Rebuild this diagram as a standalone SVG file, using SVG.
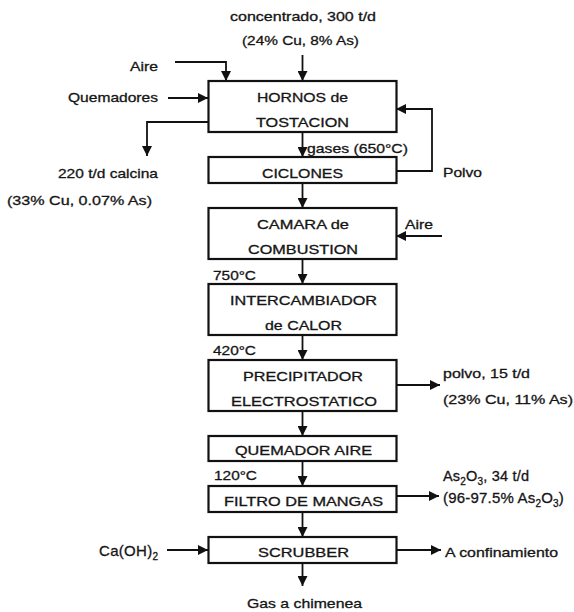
<svg xmlns="http://www.w3.org/2000/svg" width="574" height="612" viewBox="0 0 574 612">
<defs>
<marker id="ah" markerUnits="userSpaceOnUse" markerWidth="10" markerHeight="10" refX="10" refY="5" orient="auto">
<path d="M0,0 L10,5 L0,10 z" fill="#111"/>
</marker>
<style>
.box{fill:#fff;stroke:#111;stroke-width:2.2}
.ln{fill:none;stroke:#111;stroke-width:1.8;marker-end:url(#ah)}
text{font-family:"Liberation Sans",Arial,sans-serif;font-size:13px;fill:#151515;stroke:#151515;stroke-width:0.3}
.sub{font-size:10px}
</style>
</defs>
<rect width="574" height="612" fill="#fff"/>

<g id="connectors">
<path class="ln" d="M302.5,55 V81"/>
<path class="ln" d="M175,62 H226 V81"/>
<path class="ln" d="M168,98 H208"/>
<path class="ln" d="M208,122 H147 V156"/>
<path class="ln" d="M302.5,132 V157"/>
<path class="ln" d="M396,171 H432 V109 H396"/>
<path class="ln" d="M302.5,183 V208"/>
<path class="ln" d="M442,236 H396"/>
<path class="ln" d="M302.5,259 V284"/>
<path class="ln" d="M302.5,335 V360"/>
<path class="ln" d="M396,385 H440"/>
<path class="ln" d="M302.5,411 V436"/>
<path class="ln" d="M302.5,461 V486"/>
<path class="ln" d="M396,496 H439"/>
<path class="ln" d="M302.5,512 V537"/>
<path class="ln" d="M167,550 H208"/>
<path class="ln" d="M396,550 H441"/>
<path class="ln" d="M302.5,563 V586"/>
</g>

<g id="hornos">
<rect class="box" x="208.5" y="81" width="188" height="51"/>
<text x="257" y="102" textLength="91" lengthAdjust="spacingAndGlyphs">HORNOS de</text>
<text x="256" y="127" textLength="93" lengthAdjust="spacingAndGlyphs">TOSTACION</text>
</g>
<g id="ciclones">
<rect class="box" x="208.5" y="157" width="188" height="26"/>
<text x="262" y="178" textLength="81" lengthAdjust="spacingAndGlyphs">CICLONES</text>
</g>
<g id="camara">
<rect class="box" x="208.5" y="208" width="188" height="51"/>
<text x="257" y="229" textLength="92" lengthAdjust="spacingAndGlyphs">CAMARA de</text>
<text x="248" y="254" textLength="110" lengthAdjust="spacingAndGlyphs">COMBUSTION</text>
</g>
<g id="intercambiador">
<rect class="box" x="208.5" y="284" width="188" height="51"/>
<text x="230" y="305" textLength="147" lengthAdjust="spacingAndGlyphs">INTERCAMBIADOR</text>
<text x="265" y="330" textLength="77" lengthAdjust="spacingAndGlyphs">de CALOR</text>
</g>
<g id="precipitador">
<rect class="box" x="208.5" y="360" width="188" height="51"/>
<text x="243" y="381" textLength="120" lengthAdjust="spacingAndGlyphs">PRECIPITADOR</text>
<text x="231" y="406" textLength="146" lengthAdjust="spacingAndGlyphs">ELECTROSTATICO</text>
</g>
<g id="quemador">
<rect class="box" x="208.5" y="436" width="188" height="25"/>
<text x="235" y="455" textLength="137" lengthAdjust="spacingAndGlyphs">QUEMADOR AIRE</text>
</g>
<g id="filtro">
<rect class="box" x="208.5" y="486" width="188" height="26"/>
<text x="224" y="506" textLength="159" lengthAdjust="spacingAndGlyphs">FILTRO DE MANGAS</text>
</g>
<g id="scrubber">
<rect class="box" x="208.5" y="537" width="188" height="26"/>
<text x="258" y="557" textLength="91" lengthAdjust="spacingAndGlyphs">SCRUBBER</text>
</g>

<g id="labels">
<text x="230" y="21" textLength="146" lengthAdjust="spacingAndGlyphs">concentrado, 300 t/d</text>
<text x="242" y="45" textLength="117" lengthAdjust="spacingAndGlyphs">(24% Cu, 8% As)</text>
<text x="130" y="71" textLength="28" lengthAdjust="spacingAndGlyphs">Aire</text>
<text x="68" y="102" textLength="90" lengthAdjust="spacingAndGlyphs">Quemadores</text>
<text x="307" y="153" textLength="101" lengthAdjust="spacingAndGlyphs">gases (650°C)</text>
<text x="443" y="177" textLength="39" lengthAdjust="spacingAndGlyphs">Polvo</text>
<text x="58" y="178" textLength="100" lengthAdjust="spacingAndGlyphs">220 t/d calcina</text>
<text x="7" y="205" textLength="145" lengthAdjust="spacingAndGlyphs">(33% Cu, 0.07% As)</text>
<text x="405" y="229" textLength="28" lengthAdjust="spacingAndGlyphs">Aire</text>
<text x="213" y="280" textLength="43" lengthAdjust="spacingAndGlyphs">750°C</text>
<text x="213" y="355" textLength="43" lengthAdjust="spacingAndGlyphs">420°C</text>
<text x="443" y="378" textLength="87" lengthAdjust="spacingAndGlyphs">polvo, 15 t/d</text>
<text x="443" y="404" textLength="130" lengthAdjust="spacingAndGlyphs">(23% Cu, 11% As)</text>
<text x="214" y="480" textLength="43" lengthAdjust="spacingAndGlyphs">120°C</text>
<text x="443" y="481" style="font-size:14.5px;letter-spacing:0.2px">As<tspan class="sub" dy="4">2</tspan><tspan dy="-4">O</tspan><tspan class="sub" dy="4">3</tspan><tspan dy="-4">, 34 t/d</tspan></text>
<text x="443" y="503" style="font-size:15px;letter-spacing:0.2px">(96-97.5% As<tspan class="sub" dy="4">2</tspan><tspan dy="-4">O</tspan><tspan class="sub" dy="4">3</tspan><tspan dy="-4">)</tspan></text>
<text x="445" y="557" textLength="113" lengthAdjust="spacingAndGlyphs">A confinamiento</text>
<text x="99" y="556" style="font-size:15px;letter-spacing:0.3px">Ca(OH)<tspan class="sub" dy="4">2</tspan></text>
<text x="247" y="608" textLength="115" lengthAdjust="spacingAndGlyphs">Gas a chimenea</text>
</g>
</svg>
